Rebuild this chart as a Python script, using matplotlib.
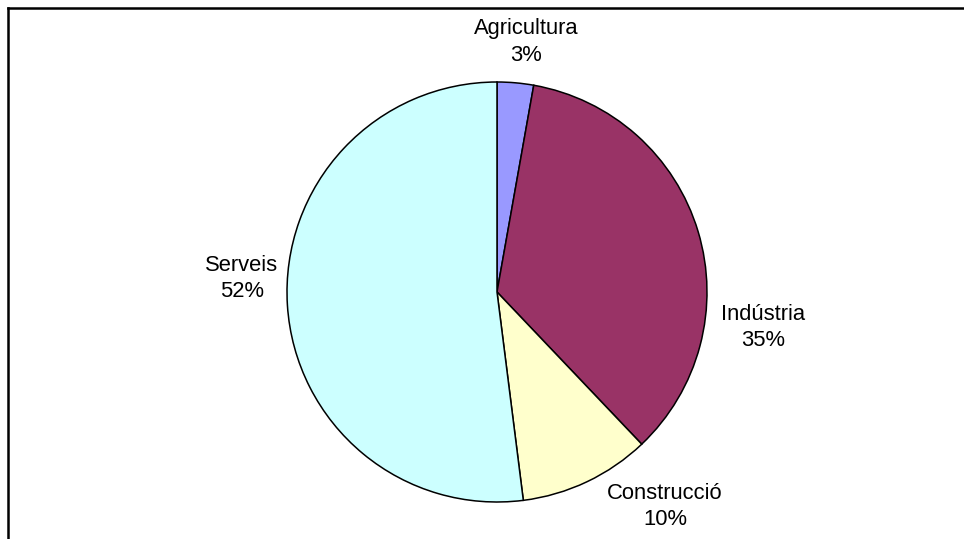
import matplotlib.pyplot as plt
from matplotlib.lines import Line2D

# Dades del gràfic
sectors = ['Agricultura', 'Indústria', 'Construcció', 'Serveis']
valors = [2.8, 35.1, 10.1, 52.0]
colors = ['#9999FF', '#993366', '#FFFFCC', '#CCFFFF']

# posició de les etiquetes (en unitats del radi)
pos_etiquetes = [(0.14, 1.19), (1.265, -0.17), (0.8, -1.02), (-1.215, 0.065)]

plt.rcParams['font.family'] = ['Liberation Sans', 'DejaVu Sans']

W, H = 964, 539
fig = plt.figure(figsize=(W / 100, H / 100), dpi=100)

cx, cy, r = 497, 292, 210
ax = fig.add_axes([(cx - r) / W, (H - cy - r) / H, 2 * r / W, 2 * r / H])
ax.pie(valors, colors=colors, startangle=90, counterclock=False, radius=1,
       wedgeprops=dict(edgecolor='black', linewidth=1.1))
ax.set_xlim(-1, 1)
ax.set_ylim(-1, 1)
ax.set_aspect('equal')
ax.axis('off')

total = sum(valors)
for nom, v, (x, y) in zip(sectors, valors, pos_etiquetes):
    ax.text(x, y, f'{nom}\n{round(v / total * 100)}%', ha='center', va='center',
            fontsize=15.8, linespacing=1.33, clip_on=False)

# marc exterior
fig.add_artist(Line2D([7.5 / W, 7.5 / W], [0, 1 - 8 / H], transform=fig.transFigure,
                      color='black', linewidth=1.8))
fig.add_artist(Line2D([7.5 / W, 1], [1 - 8 / H, 1 - 8 / H], transform=fig.transFigure,
                      color='black', linewidth=1.8))

fig.savefig('out.png', dpi=100, facecolor='white')
